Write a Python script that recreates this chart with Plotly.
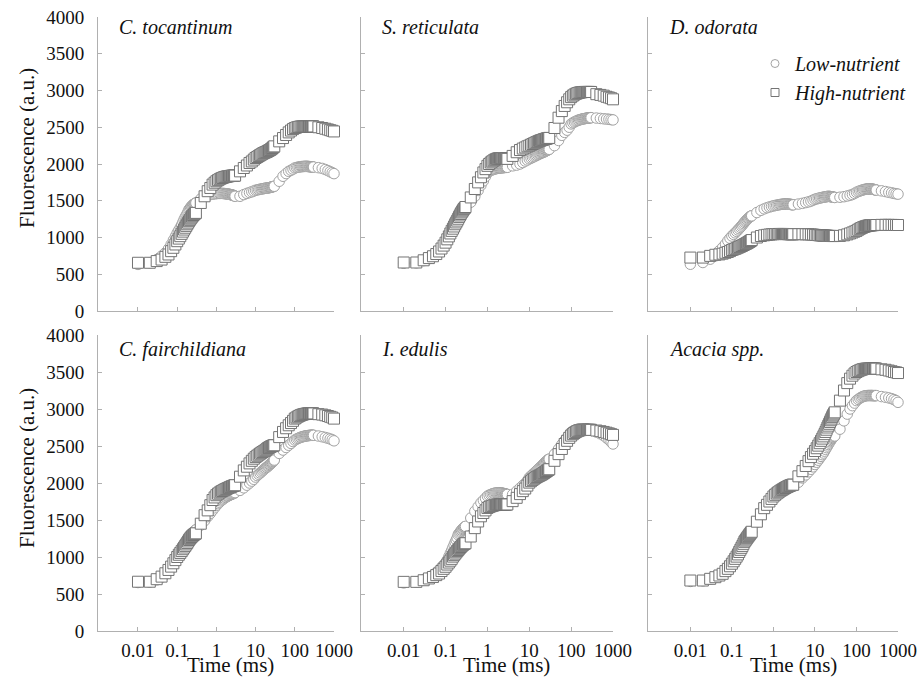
import plotly.graph_objects as go

# Sampling times of the OJIP transient (ms)
TIME_MS = [
    0.01, 0.02, 0.03, 0.04, 0.05, 0.06, 0.07, 0.08, 0.09, 0.10,
    0.11, 0.12, 0.13, 0.14, 0.15, 0.16, 0.17, 0.18, 0.19, 0.20,
    0.21, 0.22, 0.23, 0.24, 0.25, 0.26, 0.27, 0.28, 0.29, 0.30,
    0.4, 0.5, 0.6, 0.7, 0.8, 0.9, 1.0, 1.1, 1.2, 1.3, 1.4, 1.5, 1.6, 1.7,
    1.8, 1.9, 2.0, 2.1, 2.2, 2.3, 2.4, 2.5, 2.6, 2.7, 2.8, 2.9, 3.0,
    4, 5, 6, 7, 8, 9, 10, 11, 12, 13, 14, 15, 16, 17, 18, 19, 20,
    21, 22, 23, 24, 25, 26, 27, 28, 29, 30,
    40, 50, 60, 70, 80, 90, 100, 110, 120, 130, 140, 150, 160, 170, 180, 190, 200,
    210, 220, 230, 240, 250, 260, 270, 280, 290, 300,
    400, 500, 600, 700, 800, 900, 1000,
]

SPECIES = ["C. tocantinum", "S. reticulata", "D. odorata",
           "C. fairchildiana", "I. edulis", "Acacia spp."]

CT_LOW = [
    634, 656, 700, 747, 792, 846, 905, 964, 1015, 1063, 1100, 1135, 1170, 1210, 1244,
    1275, 1300, 1325, 1352, 1380, 1395, 1410, 1422, 1433, 1442, 1450, 1456, 1462, 1466, 1470,
    1525, 1561, 1575, 1584, 1590, 1594, 1597, 1599, 1600, 1600, 1600, 1599, 1598, 1596,
    1594, 1592, 1590, 1588, 1586, 1584, 1582, 1579, 1576, 1573, 1570, 1566, 1561,
    1561, 1584, 1600, 1612, 1622, 1632, 1643, 1648, 1652, 1656, 1660, 1663, 1666, 1668,
    1670, 1672, 1674, 1676, 1678, 1680, 1682, 1685, 1688, 1690, 1692, 1695, 1697,
    1765, 1833, 1870, 1900, 1915, 1930, 1946, 1952, 1956, 1960, 1963, 1965, 1966, 1967,
    1968, 1968, 1968, 1967, 1966, 1965, 1964, 1963, 1962, 1961, 1960, 1959, 1959,
    1950, 1940, 1925, 1910, 1895, 1882, 1869,
]
CT_HIGH = [
    656, 656, 679, 700, 737, 769, 814, 860, 905, 950, 985, 1018, 1050, 1080, 1108,
    1133, 1158, 1180, 1202, 1222, 1240, 1256, 1270, 1284, 1296, 1306, 1316, 1324, 1330, 1335,
    1470, 1561, 1630, 1674, 1720, 1745, 1765, 1780, 1792, 1802, 1810, 1816, 1821, 1825,
    1828, 1831, 1833, 1835, 1837, 1838, 1839, 1840, 1841, 1841, 1842, 1842, 1842,
    1900, 1946, 1980, 2014, 2035, 2060, 2082, 2095, 2108, 2120, 2130, 2140, 2148, 2155,
    2160, 2165, 2172, 2178, 2184, 2190, 2196, 2202, 2210, 2218, 2226, 2233, 2240,
    2308, 2353, 2395, 2430, 2455, 2475, 2489, 2497, 2503, 2507, 2509, 2510, 2511, 2511,
    2511, 2511, 2511, 2511, 2511, 2511, 2511, 2511, 2511, 2511, 2511, 2511, 2511,
    2500, 2490, 2480, 2470, 2460, 2452, 2443,
]
SR_LOW = [
    650, 655, 685, 712, 738, 765, 798, 835, 875, 915, 955, 995, 1035, 1070, 1100,
    1130, 1160, 1185, 1210, 1235, 1258, 1278, 1296, 1314, 1330, 1345, 1358, 1370, 1380, 1390,
    1480, 1560, 1640, 1710, 1770, 1830, 1880, 1900, 1912, 1920, 1927, 1932, 1936, 1940,
    1943, 1945, 1947, 1948, 1949, 1950, 1951, 1952, 1953, 1954, 1954, 1955, 1955,
    1975, 1985, 2000, 2020, 2040, 2055, 2070, 2080, 2090, 2100, 2110, 2118, 2126, 2134,
    2140, 2146, 2152, 2158, 2162, 2166, 2172, 2178, 2184, 2188, 2192, 2196, 2200,
    2250, 2320, 2390, 2430, 2460, 2500, 2545, 2560, 2572, 2582, 2590, 2597, 2602, 2606,
    2610, 2613, 2616, 2618, 2620, 2622, 2624, 2626, 2627, 2628, 2629, 2630, 2630,
    2625, 2620, 2615, 2612, 2608, 2604, 2600,
]
SR_HIGH = [
    660, 660, 690, 720, 745, 775, 810, 850, 890, 930, 975, 1015, 1055, 1090, 1120,
    1150, 1180, 1205, 1230, 1255, 1280, 1300, 1320, 1340, 1355, 1370, 1385, 1395, 1405, 1415,
    1545, 1660, 1750, 1820, 1885, 1930, 1975, 2000, 2020, 2035, 2048, 2058, 2066, 2072,
    2076, 2079, 2080, 2081, 2081, 2080, 2079, 2078, 2076, 2075, 2073, 2072, 2070,
    2110, 2160, 2190, 2210, 2225, 2240, 2250, 2262, 2272, 2282, 2290, 2298, 2305, 2312,
    2318, 2322, 2326, 2330, 2334, 2338, 2341, 2344, 2347, 2350, 2352, 2354, 2355,
    2490, 2630, 2720, 2790, 2840, 2880, 2910, 2930, 2945, 2955, 2963, 2968, 2972, 2975,
    2977, 2979, 2980, 2980, 2980, 2980, 2980, 2980, 2980, 2980, 2980, 2980, 2980,
    2950, 2940, 2930, 2915, 2905, 2895, 2880,
]
DO_LOW = [
    636, 660, 705, 750, 820, 865, 910, 955, 990, 1020, 1042, 1063, 1083, 1102, 1120,
    1138, 1155, 1172, 1189, 1205, 1218, 1230, 1242, 1253, 1263, 1272, 1280, 1287, 1292, 1295,
    1340, 1370, 1390, 1405, 1415, 1423, 1430, 1435, 1440, 1444, 1447, 1450, 1452, 1454,
    1455, 1456, 1456, 1455, 1454, 1453, 1452, 1451, 1450, 1449, 1447, 1446, 1445,
    1455, 1465, 1475, 1485, 1495, 1508, 1520, 1526, 1532, 1537, 1541, 1545, 1548, 1551,
    1554, 1556, 1558, 1560, 1559, 1558, 1556, 1554, 1552, 1550, 1548, 1546, 1545,
    1548, 1555, 1565, 1575, 1585, 1600, 1615, 1625, 1633, 1640, 1646, 1651, 1655, 1658,
    1660, 1661, 1662, 1662, 1661, 1660, 1658, 1656, 1654, 1652, 1650, 1648, 1645,
    1635, 1625, 1615, 1608, 1600, 1595, 1590,
]
DO_HIGH = [
    727, 727, 750, 765, 770, 780, 792, 803, 815, 830, 838, 846, 854, 862, 870,
    877, 884, 891, 898, 905, 911, 917, 923, 929, 935, 941, 947, 953, 959, 965,
    1000, 1020, 1030, 1036, 1040, 1043, 1045, 1046, 1047, 1048, 1048, 1048, 1048, 1048,
    1048, 1047, 1047, 1047, 1046, 1046, 1046, 1046, 1045, 1045, 1045, 1045, 1045,
    1045, 1045, 1044, 1043, 1042, 1040, 1036, 1034, 1032, 1030, 1029, 1028, 1027, 1026,
    1025, 1024, 1023, 1022, 1022, 1021, 1021, 1020, 1020, 1020, 1020, 1020, 1020,
    1022, 1030, 1042, 1055, 1068, 1080, 1090, 1105, 1118, 1128, 1136, 1143, 1149, 1154,
    1158, 1161, 1163, 1165, 1166, 1167, 1168, 1169, 1169, 1170, 1170, 1170, 1170,
    1172, 1172, 1172, 1171, 1171, 1170, 1170,
]
CF_LOW = [
    655, 660, 690, 725, 765, 810, 855, 900, 945, 990, 1030, 1065, 1100, 1130, 1160,
    1185, 1210, 1230, 1250, 1265, 1280, 1292, 1304, 1315, 1325, 1335, 1344, 1352, 1360, 1368,
    1430, 1490, 1545, 1590, 1630, 1665, 1695, 1720, 1740, 1758, 1772, 1784, 1795, 1805,
    1813, 1820, 1826, 1832, 1837, 1842, 1846, 1850, 1854, 1858, 1862, 1866, 1870,
    1900, 1935, 1970, 2000, 2025, 2050, 2080, 2100, 2118, 2135, 2150, 2165, 2178, 2190,
    2200, 2210, 2220, 2230, 2240, 2250, 2258, 2266, 2274, 2282, 2290, 2300, 2310,
    2400, 2445, 2480, 2510, 2535, 2560, 2580, 2592, 2602, 2610, 2617, 2622, 2626, 2630,
    2633, 2636, 2638, 2640, 2641, 2642, 2643, 2644, 2645, 2645, 2645, 2645, 2645,
    2635, 2625, 2615, 2605, 2595, 2585, 2570,
]
CF_HIGH = [
    666, 666, 700, 735, 780, 825, 870, 915, 958, 1000, 1030, 1055, 1080, 1105, 1128,
    1150, 1170, 1190, 1210, 1230, 1245, 1258, 1270, 1280, 1289, 1297, 1304, 1310, 1315, 1320,
    1450, 1565, 1630, 1700, 1770, 1805, 1835, 1855, 1870, 1882, 1892, 1900, 1908, 1915,
    1921, 1927, 1932, 1937, 1942, 1947, 1951, 1955, 1959, 1962, 1965, 1968, 1970,
    2085, 2170, 2220, 2265, 2300, 2328, 2350, 2368, 2383, 2396, 2408, 2418, 2427, 2435,
    2443, 2455, 2465, 2472, 2479, 2485, 2490, 2495, 2499, 2503, 2506, 2508, 2510,
    2620, 2690, 2740, 2780, 2810, 2840, 2870, 2885, 2897, 2907, 2915, 2921, 2926, 2930,
    2933, 2935, 2937, 2938, 2939, 2940, 2940, 2940, 2940, 2940, 2940, 2940, 2940,
    2930, 2925, 2915, 2905, 2895, 2885, 2870,
]
IE_LOW = [
    650, 660, 690, 720, 755, 790, 825, 860, 890, 914, 960, 1005, 1050, 1090, 1130,
    1165, 1200, 1230, 1260, 1300, 1318, 1334, 1348, 1361, 1373, 1384, 1394, 1402, 1408, 1414,
    1527, 1618, 1680, 1732, 1765, 1795, 1823, 1835, 1845, 1852, 1858, 1862, 1865, 1867,
    1868, 1868, 1867, 1866, 1864, 1862, 1859, 1856, 1853, 1851, 1849, 1847, 1845,
    1845, 1890, 1930, 1965, 1995, 2030, 2073, 2095, 2115, 2133, 2150, 2165, 2180, 2195,
    2208, 2220, 2232, 2245, 2257, 2268, 2278, 2288, 2298, 2306, 2313, 2319, 2323,
    2390, 2459, 2520, 2573, 2610, 2650, 2686, 2700, 2710, 2718, 2724, 2728, 2731, 2732,
    2732, 2732, 2731, 2730, 2729, 2728, 2727, 2725, 2723, 2722, 2720, 2719, 2718,
    2690, 2665, 2640, 2610, 2585, 2555, 2527,
]
IE_HIGH = [
    664, 664, 686, 710, 730, 755, 777, 810, 840, 868, 898, 925, 950, 975, 1005,
    1025, 1045, 1063, 1080, 1095, 1110, 1123, 1135, 1146, 1156, 1165, 1173, 1179, 1183, 1186,
    1277, 1390, 1480, 1550, 1595, 1630, 1663, 1675, 1684, 1691, 1697, 1701, 1704, 1706,
    1708, 1709, 1710, 1710, 1710, 1710, 1710, 1710, 1710, 1710, 1710, 1710, 1710,
    1755, 1800, 1850, 1890, 1925, 1965, 2005, 2025, 2042, 2057, 2070, 2080, 2089, 2097,
    2104, 2111, 2118, 2126, 2134, 2141, 2148, 2155, 2162, 2169, 2175, 2181, 2186,
    2300, 2390, 2460, 2527, 2570, 2610, 2640, 2660, 2676, 2690, 2700, 2707, 2712, 2715,
    2717, 2718, 2718, 2718, 2718, 2718, 2718, 2718, 2718, 2718, 2718, 2718, 2718,
    2709, 2700, 2690, 2680, 2670, 2660, 2650,
]
AC_LOW = [
    670, 678, 700, 722, 745, 768, 800, 833, 870, 905, 940, 972, 1003, 1035, 1065,
    1093, 1120, 1146, 1170, 1195, 1215, 1234, 1252, 1268, 1283, 1297, 1310, 1320, 1330, 1338,
    1470, 1570, 1650, 1695, 1740, 1775, 1805, 1825, 1842, 1857, 1870, 1880, 1889, 1897,
    1905, 1912, 1918, 1924, 1929, 1934, 1939, 1944, 1948, 1952, 1956, 1959, 1962,
    2010, 2068, 2110, 2150, 2185, 2218, 2250, 2280, 2308, 2335, 2360, 2383, 2405, 2430,
    2455, 2478, 2500, 2520, 2540, 2558, 2575, 2590, 2603, 2614, 2623, 2630, 2636,
    2727, 2840, 2931, 3000, 3045, 3080, 3113, 3130, 3145, 3157, 3166, 3172, 3177, 3180,
    3181, 3182, 3182, 3182, 3182, 3182, 3182, 3181, 3181, 3181, 3181, 3181, 3181,
    3168, 3159, 3150, 3140, 3127, 3113, 3090,
]
AC_HIGH = [
    682, 682, 705, 727, 750, 773, 809, 840, 875, 909, 942, 975, 1005, 1035, 1068,
    1097, 1124, 1150, 1178, 1205, 1222, 1238, 1254, 1268, 1282, 1295, 1308, 1320, 1331, 1341,
    1477, 1577, 1660, 1705, 1750, 1785, 1818, 1840, 1858, 1873, 1886, 1897, 1907, 1916,
    1924, 1932, 1939, 1945, 1951, 1956, 1961, 1965, 1969, 1972, 1975, 1977, 1977,
    2090, 2160, 2230, 2295, 2350, 2395, 2432, 2470, 2505, 2538, 2570, 2600, 2630, 2660,
    2690, 2720, 2750, 2775, 2800, 2825, 2848, 2870, 2890, 2910, 2925, 2940, 2955,
    3113, 3250, 3350, 3410, 3450, 3480, 3500, 3512, 3522, 3530, 3536, 3540, 3543, 3545,
    3545, 3545, 3545, 3545, 3545, 3545, 3545, 3545, 3545, 3545, 3545, 3545, 3545,
    3536, 3530, 3520, 3510, 3500, 3495, 3486,
]

LOW = [CT_LOW, SR_LOW, DO_LOW, CF_LOW, IE_LOW, AC_LOW]
HIGH = [CT_HIGH, SR_HIGH, DO_HIGH, CF_HIGH, IE_HIGH, AC_HIGH]
for s in LOW + HIGH:
    if len(s) != len(TIME_MS):
        raise ValueError(f"length mismatch {len(s)} vs {len(TIME_MS)}")

X_TICKS = [0.01, 0.1, 1, 10, 100, 1000]
X_TICKTEXT = ["0.01", "0.1", "1", "10", "100", "1000"]
Y_TICKS = [0, 500, 1000, 1500, 2000, 2500, 3000, 3500, 4000]

W, H = 920, 678
FONT = "Liberation Serif"
TXT = "#111111"
AXIS_GRAY = "#b0b0b0"
CIRCLE_GRAY = "#a3a3a3"
SQUARE_GRAY = "#747474"

def px_x(p):
    return p / W

def px_y(p):
    return 1 - p / H

COL_PX = [(98, 334), (361, 613), (648, 898)]
ROW_PX = [(17, 311), (335, 631)]

fig = go.Figure()
layout = dict(
    template="none",
    width=W, height=H,
    margin=dict(l=0, r=0, t=0, b=0, pad=0),
    paper_bgcolor="white", plot_bgcolor="white",
    font=dict(family=FONT, size=19, color=TXT),
    showlegend=True,
)

annotations = []
for i in range(6):
    r, c = divmod(i, 3)
    ax = "" if i == 0 else str(i + 1)
    xa, ya = "x" + ax, "y" + ax
    x0, x1 = COL_PX[c]
    y0, y1 = ROW_PX[r]
    layout["xaxis" + ax] = dict(
        type="log", range=[-3.02, 3.0], automargin=False,
        domain=[px_x(x0), px_x(x1)], anchor=ya,
        tickvals=X_TICKS, ticktext=X_TICKTEXT,
        showticklabels=(r == 1),
        ticks="inside", ticklen=4, tickcolor=AXIS_GRAY, tickwidth=1,
        showline=True, linecolor=AXIS_GRAY, linewidth=1,
        showgrid=False, zeroline=False,
        tickfont=dict(family=FONT, size=19, color=TXT),
        ticklabelstandoff=2, ticklabeloverflow="allow",
    )
    layout["yaxis" + ax] = dict(
        range=[0, 4000], domain=[px_y(y1), px_y(y0)], anchor=xa,
        automargin=False,
        tickvals=Y_TICKS,
        showticklabels=(c == 0),
        ticks="inside", ticklen=4, tickcolor=AXIS_GRAY, tickwidth=1,
        showline=True, linecolor=AXIS_GRAY, linewidth=1,
        showgrid=False, zeroline=False,
        tickfont=dict(family=FONT, size=19, color=TXT),
        ticklabelstandoff=9, ticklabeloverflow="allow",
    )
    fig.add_trace(go.Scatter(
        x=TIME_MS, y=LOW[i], mode="markers", xaxis=xa, yaxis=ya,
        marker=dict(symbol="circle", size=10.5, color="white",
                    line=dict(color=CIRCLE_GRAY, width=1)),
        cliponaxis=False, showlegend=False, name="Low-nutrient",
    ))
    fig.add_trace(go.Scatter(
        x=TIME_MS, y=HIGH[i], mode="markers", xaxis=xa, yaxis=ya,
        marker=dict(symbol="square", size=11, color="white",
                    line=dict(color=SQUARE_GRAY, width=1)),
        cliponaxis=False, showlegend=False, name="High-nutrient",
    ))
    annotations.append(dict(
        text=SPECIES[i], xref="paper", yref="paper",
        x=px_x(x0 + 19), y=px_y(27 if r == 0 else 349),
        xanchor="left", yanchor="middle", showarrow=False,
        font=dict(family=FONT, size=20, color=TXT, style="italic"),
    ))

# legend entries (symbols only, no data)
fig.add_trace(go.Scatter(
    x=[None], y=[None], mode="markers", xaxis="x3", yaxis="y3",
    marker=dict(symbol="circle", size=8, color="white",
                line=dict(color=CIRCLE_GRAY, width=1)),
    name="Low-nutrient", showlegend=True,
))
fig.add_trace(go.Scatter(
    x=[None], y=[None], mode="markers", xaxis="x3", yaxis="y3",
    marker=dict(symbol="square", size=8, color="white",
                line=dict(color=SQUARE_GRAY, width=1)),
    name="High-nutrient", showlegend=True,
))

for yc in (148, 468):
    annotations.append(dict(
        text="Fluorescence (a.u.)", xref="paper", yref="paper",
        x=px_x(27), y=px_y(yc), textangle=-90,
        xanchor="center", yanchor="middle", showarrow=False,
        font=dict(family=FONT, size=21, color=TXT),
    ))
for xc in (230, 506, 793):
    annotations.append(dict(
        text="Time (ms)", xref="paper", yref="paper",
        x=px_x(xc), y=px_y(665),
        xanchor="center", yanchor="middle", showarrow=False,
        font=dict(family=FONT, size=21, color=TXT),
    ))

layout["annotations"] = annotations
layout["legend"] = dict(
    x=px_x(755), y=px_y(44), xanchor="left", yanchor="top",
    bgcolor="rgba(0,0,0,0)", borderwidth=0,
    font=dict(family=FONT, size=20, color=TXT, style="italic"),
    itemwidth=30, tracegroupgap=0,
)
fig.update_layout(**layout)
# remove the default 8px page margin so the 920x678 figure fills the window exactly
fig.write_html(
    "out.html",
    config={"displayModeBar": False},
    post_script="document.body.style.margin = '0px';",
)
